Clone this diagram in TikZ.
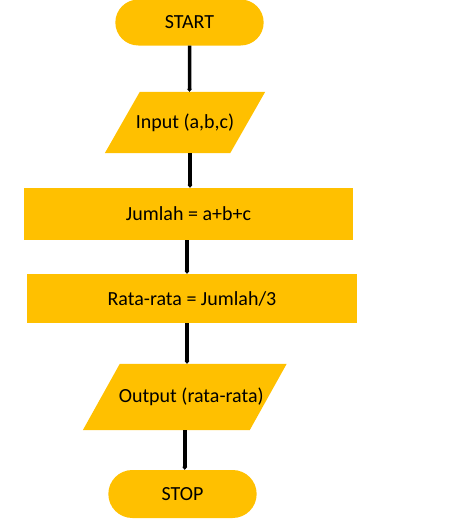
\documentclass[tikz,border=0pt]{standalone}
\usepackage{fontspec}
\setmainfont{Carlito}
\usetikzlibrary{shapes.misc,arrows.meta,backgrounds}
\definecolor{flowgold}{HTML}{FFC000}

\begin{document}
\begin{tikzpicture}[x=1pt,y=1pt,
		every node/.style={font=\fontsize{20}{24}\selectfont, text=black},
		terminal/.style={rounded rectangle, fill=flowgold, minimum width=155pt, minimum height=46pt},
		io/.style={rectangle, inner sep=0pt},
		process/.style={rectangle, fill=flowgold, minimum height=50pt},
		flowline/.style={line width=3.5pt, -{Triangle[length=3pt,width=5pt]}}]
		\useasboundingbox (0,0) rectangle (463,-520);
		
		\node[terminal] (start) at (189.5,-22.5) {START};
		\node[io, minimum width=125pt, minimum height=61pt] (input) at (185,-122.5) {Input (a,b,c)};
		\node[process, minimum width=329pt, minimum height=52pt] (sum) at (188.5,-214) {Jumlah = a+b+c};
		\node[process, minimum width=330pt, minimum height=49pt] (avg) at (192,-298.5) {Rata-rata = Jumlah/3};
		\node[io, minimum width=166.5pt, minimum height=66pt] (output) at (184.75,-397) {\hspace{13pt}Output (rata-rata)};
		\node[terminal, minimum height=48pt] (stop) at (182.5,-494) {STOP};
		
		\begin{scope}[on background layer]
			\fill[flowgold] ([xshift=17.5pt]input.north west) -- ([xshift=17.5pt]input.north east)
				-- ([xshift=-17.5pt]input.south east) -- ([xshift=-17.5pt]input.south west) -- cycle;
			\fill[flowgold] ([xshift=18.5pt]output.north west) -- ([xshift=18.5pt]output.north east)
				-- ([xshift=-18.5pt]output.south east) -- ([xshift=-18.5pt]output.south west) -- cycle;
		\end{scope}
		
		\draw[flowline] (start) -- (start |- input.north);
		\draw[flowline] ([xshift=5pt]input.south) -- ([xshift=5pt]input.south |- sum.north);
		\draw[flowline] ([xshift=-1.5pt]sum.south) -- ([xshift=-1.5pt]sum.south |- avg.north);
		\draw[flowline] ([xshift=-5pt]avg.south) -- ([xshift=-5pt]avg.south |- output.north);
		\draw[flowline] (output) -- (output |- stop.north);

	\end{tikzpicture}
\end{document}
